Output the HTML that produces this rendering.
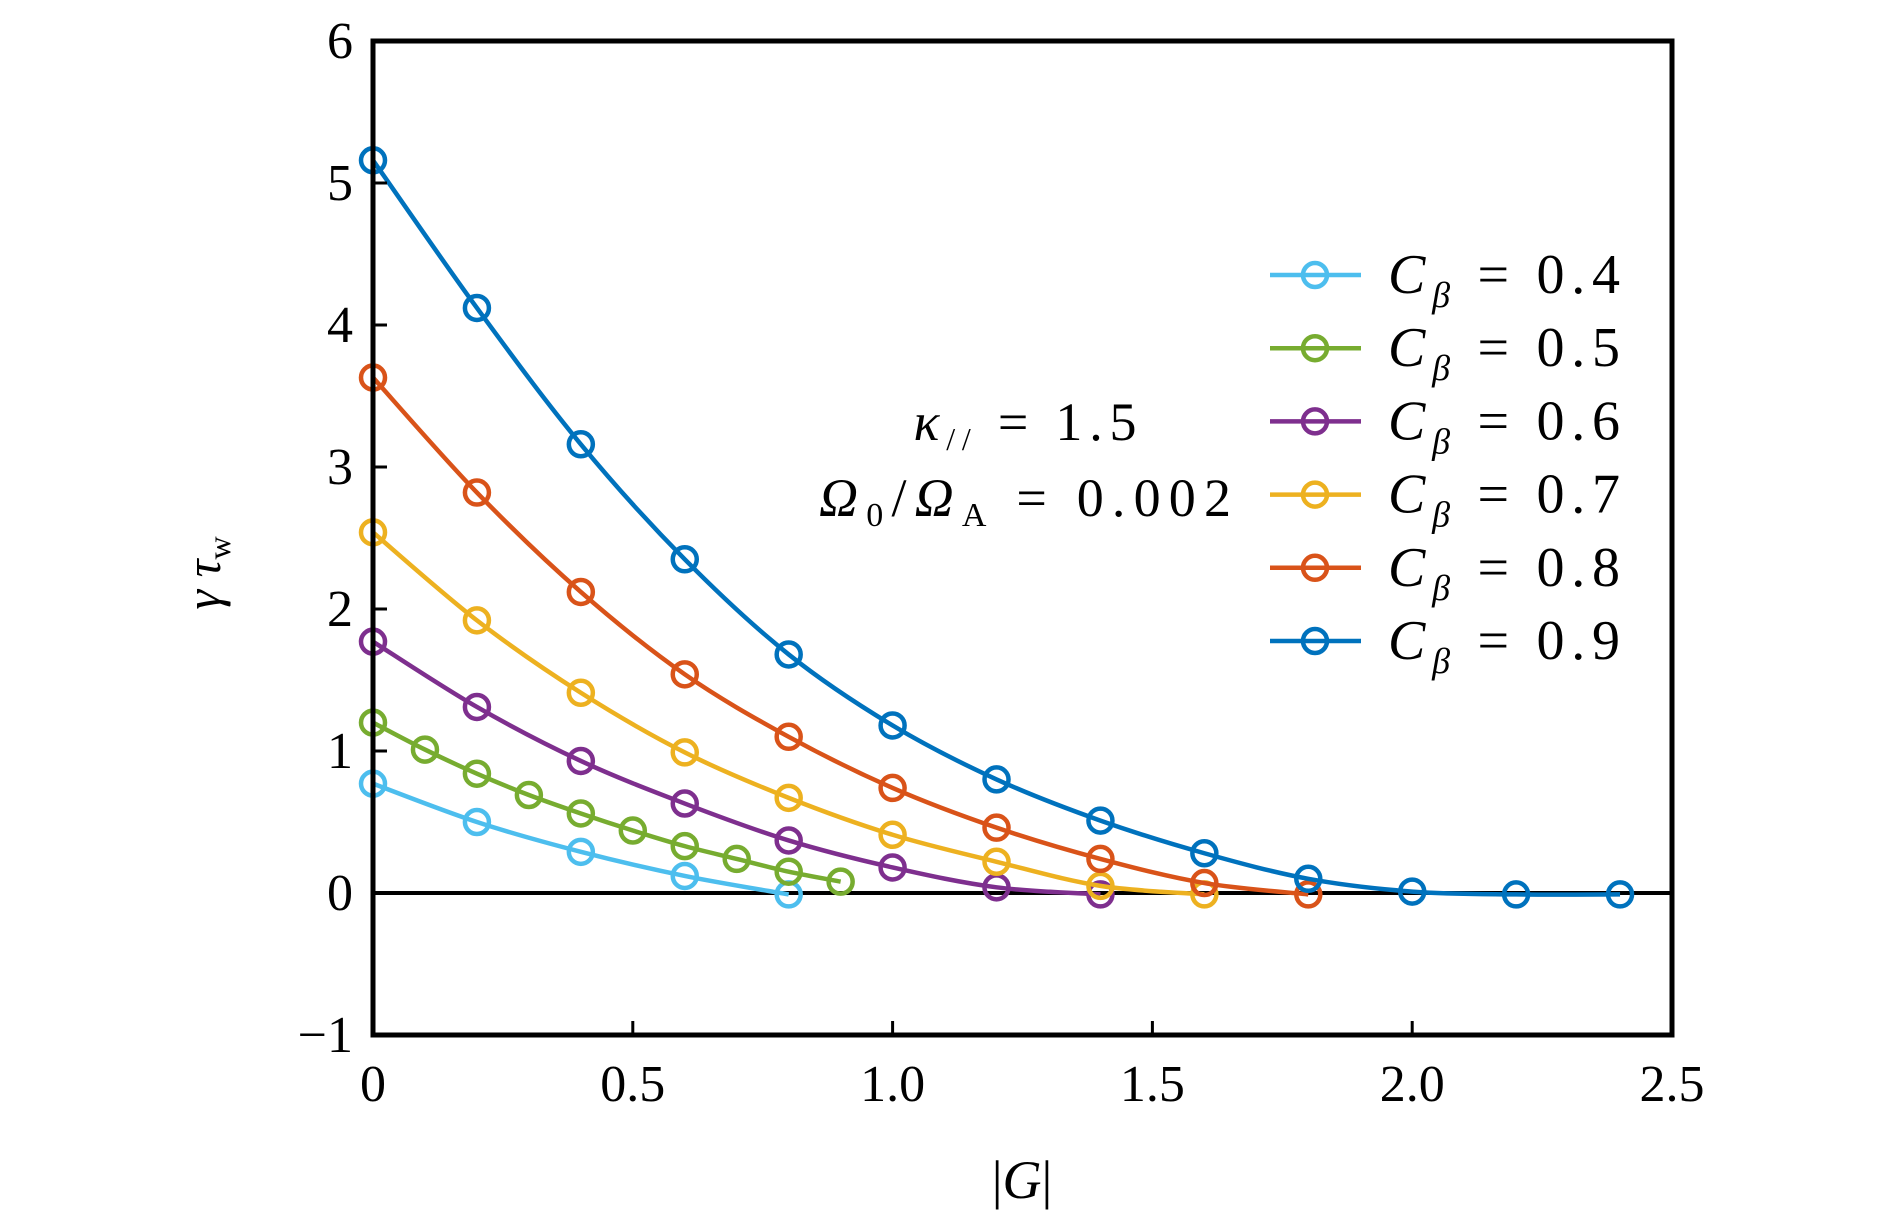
<!DOCTYPE html>
<html><head><meta charset="utf-8"><style>
html,body{margin:0;padding:0;background:#fff;}
svg text{font-family:"Liberation Serif",serif;fill:#000;}
</style></head><body>
<svg id="chart" xmlns="http://www.w3.org/2000/svg" width="1890" height="1217" viewBox="0 0 1890 1217">
<rect width="1890" height="1217" fill="#fff"/>
<g id="series"></g>
<g id="axes"></g>
<g id="legend"></g>
<text x="1025" y="440" text-anchor="middle" font-size="54" textLength="223" lengthAdjust="spacing"><tspan font-style="italic">κ</tspan><tspan font-size="32" dy="10">//</tspan><tspan dy="-10"> = 1.5</tspan></text>
<text x="1025" y="516" text-anchor="middle" font-size="54" textLength="412" lengthAdjust="spacing"><tspan font-style="italic">Ω</tspan><tspan font-size="34" dy="10">0</tspan><tspan dy="-10">/</tspan><tspan font-style="italic">Ω</tspan><tspan font-size="34" dy="10">A</tspan><tspan dy="-10"> = 0.002</tspan></text>
<text x="1022" y="1198" text-anchor="middle" font-size="54">|<tspan font-style="italic">G</tspan>|</text>
<text transform="translate(220,573) rotate(-90)" text-anchor="middle" font-size="50"><tspan font-style="italic">γ τ</tspan><tspan font-size="32" dy="10">w</tspan></text>
</svg>
<script>
const cValues = ["0.4","0.5","0.6","0.7","0.8","0.9"];
const colors = ["#4DBEEE","#77AC30","#7E2F8E","#EDB120","#D95319","#0072BD"];
const xs04 = [0,0.2,0.4,0.6,0.8];
const ys04 = [0.77,0.50,0.29,0.12,-0.01];
const xs05 = [0,0.1,0.2,0.3,0.4,0.5,0.6,0.7,0.8,0.9];
const ys05 = [1.20,1.01,0.84,0.69,0.56,0.44,0.33,0.24,0.15,0.08];
const xs06 = [0,0.2,0.4,0.6,0.8,1.0,1.2,1.4];
const ys06 = [1.77,1.31,0.93,0.63,0.37,0.18,0.04,-0.01];
const xs07 = [0,0.2,0.4,0.6,0.8,1.0,1.2,1.4,1.6];
const ys07 = [2.54,1.92,1.41,0.99,0.67,0.41,0.22,0.05,-0.01];
const xs08 = [0,0.2,0.4,0.6,0.8,1.0,1.2,1.4,1.6,1.8];
const ys08 = [3.63,2.82,2.12,1.54,1.10,0.74,0.46,0.24,0.07,-0.01];
const xs09 = [0,0.2,0.4,0.6,0.8,1.0,1.2,1.4,1.6,1.8,2.0,2.2,2.4];
const ys09 = [5.16,4.12,3.16,2.35,1.68,1.18,0.80,0.51,0.28,0.10,0.01,-0.01,-0.01];
const xTicks = [0,0.5,1.0,1.5,2.0,2.5];
const xTickLabels = ["0","0.5","1.0","1.5","2.0","2.5"];
const yTicks = [-1,0,1,2,3,4,5,6];
const yTickLabels = ["\u22121","0","1","2","3","4","5","6"];

const L=373,R=1672,T=41,B=1035;
const X=v=>L+(v-0)/(2.5)*(R-L);
const Y=v=>B-(v+1)/7*(B-T);
const NS="http://www.w3.org/2000/svg";
function mk(tag,attrs,parent){const e=document.createElementNS(NS,tag);for(const k in attrs)e.setAttribute(k,attrs[k]);parent.appendChild(e);return e;}
const sg=document.getElementById('series'), ag=document.getElementById('axes'), lg=document.getElementById('legend');
const allX=[xs04,xs05,xs06,xs07,xs08,xs09], allY=[ys04,ys05,ys06,ys07,ys08,ys09];

const zl=mk('line',{x1:L,x2:R,y1:Y(0),y2:Y(0),stroke:'#000','stroke-width':4},sg);



function smooth(pts){
  let d=`M${pts[0][0]},${pts[0][1]}`;
  for(let i=0;i<pts.length-1;i++){
    const p0=pts[Math.max(0,i-1)],p1=pts[i],p2=pts[i+1],p3=pts[Math.min(pts.length-1,i+2)];
    const c1=[p1[0]+(p2[0]-p0[0])/6,p1[1]+(p2[1]-p0[1])/6];
    const c2=[p2[0]-(p3[0]-p1[0])/6,p2[1]-(p3[1]-p1[1])/6];
    d+=` C${c1[0]},${c1[1]} ${c2[0]},${c2[1]} ${p2[0]},${p2[1]}`;
  }
  return d;
}
for(let s=0;s<6;s++){
  const g=mk('g',{},sg);
  
  
  const pts=allX[s].map((x,i)=>[X(x),Y(allY[s][i])]);
  const p=mk('path',{d:smooth(pts),fill:'none',stroke:colors[s],'stroke-width':4.5},g);
  
  
  pts.forEach(pt=>{
    const c=mk('circle',{cx:pt[0],cy:pt[1],r:12,fill:'none',stroke:colors[s],'stroke-width':4.5},g);
    
    
  });
}
const box=mk('rect',{x:L,y:T,width:R-L,height:B-T,fill:'none',stroke:'#000','stroke-width':5},ag);


xTicks.forEach((v,i)=>{
  const t=mk('line',{x1:X(v),x2:X(v),y1:B,y2:B-14,stroke:'#000','stroke-width':3},ag);
  
  
  const tx=mk('text',{x:X(v),y:B+66,'text-anchor':'middle','font-size':52},ag);
  tx.textContent=xTickLabels[i];
  
  
});
yTicks.forEach((v,i)=>{
  const t=mk('line',{x1:L,x2:L+14,y1:Y(v),y2:Y(v),stroke:'#000','stroke-width':3},ag);
  
  
  const tx=mk('text',{x:L-20,y:Y(v)+17,'text-anchor':'end','font-size':52},ag);
  tx.textContent=yTickLabels[i];
  
  
});
for(let s=0;s<6;s++){
  const y=275+s*73.2;
  const g=mk('g',{},lg);
  
  
  mk('line',{x1:1270,x2:1361,y1:y,y2:y,stroke:colors[s],'stroke-width':4.5},g);
  mk('circle',{cx:1315,cy:y,r:12,fill:'none',stroke:colors[s],'stroke-width':4.5},g);
  const t=mk('text',{x:1388,y:y+18,'font-size':56,textLength:232,lengthAdjust:'spacing'},g);
  t.innerHTML='<tspan font-style="italic">C</tspan><tspan font-style="italic" font-size="36" dy="14">β</tspan><tspan dy="-14"> = '+cValues[s]+'</tspan>';
}
</script>
</body></html>
